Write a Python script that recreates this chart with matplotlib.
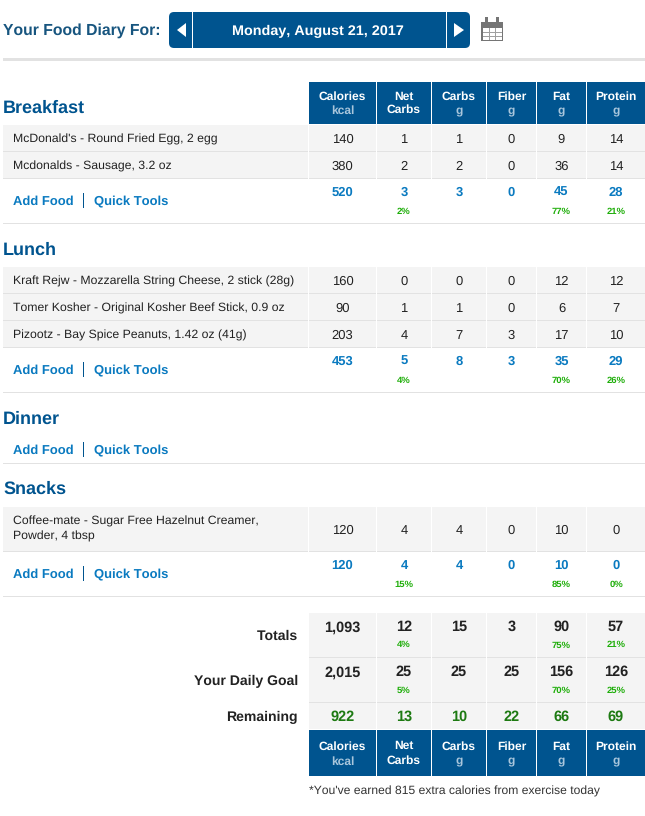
import matplotlib
matplotlib.use('Agg')
import matplotlib.pyplot as plt
from matplotlib.patches import Rectangle, FancyBboxPatch, Polygon

plt.rcParams['font.family'] = ['Liberation Sans', 'DejaVu Sans']
plt.rcParams['text.kerning_factor'] = 6
plt.rcParams['text.hinting'] = 'no_hinting'

# data
columns = ['Calories', 'Net\nCarbs', 'Carbs', 'Fiber', 'Fat', 'Protein']
units = ['kcal', '', 'g', 'g', 'g', 'g']

breakfast_foods = ["McDonald's - Round Fried Egg, 2 egg", "Mcdonalds - Sausage, 3.2 oz"]
breakfast_vals = [[140, 1, 1, 0, 9, 14], [380, 2, 2, 0, 36, 14]]
breakfast_total = [520, 3, 3, 0, 45, 28]
breakfast_pct = ['', '2%', '', '', '77%', '21%']

lunch_foods = ["Kraft Rejw - Mozzarella String Cheese, 2 stick (28g)",
               "Tomer Kosher - Original Kosher Beef Stick, 0.9 oz",
               "Pizootz - Bay Spice Peanuts, 1.42 oz (41g)"]
lunch_vals = [[160, 0, 0, 0, 12, 12], [90, 1, 1, 0, 6, 7], [203, 4, 7, 3, 17, 10]]
lunch_total = [453, 5, 8, 3, 35, 29]
lunch_pct = ['', '4%', '', '', '70%', '26%']

snack_foods = ["Coffee-mate - Sugar Free Hazelnut Creamer,\nPowder, 4 tbsp"]
snack_vals = [[120, 4, 4, 0, 10, 0]]
snack_total = [120, 4, 4, 0, 10, 0]
snack_pct = ['', '15%', '', '', '85%', '0%']

totals = ['1,093', 12, 15, 3, 90, 57]
totals_pct = ['', '4%', '', '', '75%', '21%']
goal = ['2,015', 25, 25, 25, 156, 126]
goal_pct = ['', '5%', '', '', '70%', '25%']
remaining = [922, 13, 10, 22, 66, 69]

# colours and layout
NAVY = '#00548f'
LINK = '#0a7ac0'
GREY = '#f4f4f4'
LINE = '#e2e2e2'
DARK = '#222222'
GREEN = '#1d7a12'
PCT = '#1fae0a'
col_left = [309, 377, 432, 487, 537, 587]
col_right = [376, 431, 486, 536, 586, 645]
col_mid = [(a + b) / 2 for a, b in zip(col_left, col_right)]

fig = plt.figure(figsize=(6.45, 8.16), dpi=100)
ax = fig.add_axes([0, 0, 1, 1])
ax.set_xlim(0, 645)
ax.set_ylim(816, 0)
ax.axis('off')


def px(size):
    return size * 0.72


def txt(x, y, s, size=12, color=DARK, weight='normal', ha='left', **kw):
    # single lines sit on a baseline so descenders don't shift them
    if '\n' in s:
        ax.text(x, y, s, fontsize=px(size), color=color, fontweight=weight, ha=ha, va='center', **kw)
    else:
        ax.text(x, y + size * 0.36, s, fontsize=px(size), color=color, fontweight=weight,
                ha=ha, va='baseline', **kw)


def rect(x0, y0, x1, y1, color):
    ax.add_patch(Rectangle((x0, y0), x1 - x0, y1 - y0, fc=color, ec='none', lw=0))


def button(x0, x1):
    ax.add_patch(FancyBboxPatch((x0, 12), x1 - x0, 36, boxstyle='round,pad=0,rounding_size=5',
                                fc=NAVY, ec='none', lw=0))


def header(top, bottom, gap=7, net_space=1.15):
    for i, name in enumerate(columns):
        rect(col_left[i], top, col_right[i], bottom, NAVY)
        mid = (top + bottom) / 2
        if units[i]:
            txt(col_mid[i], mid - gap, name, 12, 'white', 'bold', ha='center')
            txt(col_mid[i], mid + gap, units[i], 12, '#a9c6dc', 'bold', ha='center')
        else:
            txt(col_mid[i], mid + 0.5, name, 12, 'white', 'bold', ha='center', linespacing=net_space)


def food_rows(foods, vals, top, heights):
    y = top
    for food, row, h in zip(foods, vals, heights):
        rect(3, y, 308, y + h, GREY)
        rect(3, y + h, 308, y + h + 1, LINE)
        txt(13, y + h / 2, food, 12.2, linespacing=1.4)
        for i, v in enumerate(row):
            rect(col_left[i], y, col_right[i], y + h, GREY)
            rect(col_left[i], y + h, col_right[i], y + h + 1, LINE)
            txt(col_mid[i], y + h / 2, str(v), 13, ha='center')
        y += h + 1
    return y


def add_food(y):
    txt(13, y, 'Add Food', 13, LINK, 'bold')
    rect(83, y - 7, 84, y + 8, NAVY)
    txt(94, y, 'Quick Tools', 13, LINK, 'bold')


def section_total(vals, pct, y):
    for i, v in enumerate(vals):
        txt(col_mid[i], y, str(v), 13, LINK, 'bold', ha='center')
        if pct[i]:
            txt(col_mid[i], y + 19.5, pct[i], 9.5, PCT, 'bold', ha='center')


# top bar
txt(3, 29, 'Your Food Diary For:', 15.8, '#17557f', 'bold')
button(169, 200)
button(430, 470)
rect(185, 12, 446, 48, NAVY)
rect(192, 12, 193, 48, 'white')
rect(446, 12, 447, 48, 'white')
ax.add_patch(Polygon([(186, 23), (186, 37), (177, 30)], fc='white', ec='none'))
ax.add_patch(Polygon([(454, 23), (454, 37), (464, 30)], fc='white', ec='none'))
txt(318, 30, 'Monday, August 21, 2017', 14.4, 'white', 'bold', ha='center')

# calendar icon
rect(481, 22, 503, 41, '#757575')
rect(482.5, 28, 501.5, 39.5, 'white')
for gx in [488.5, 494.5]:
    rect(gx, 28, gx + 1, 39.5, '#a0a0a0')
for gy in [31.5, 35.5]:
    rect(482.5, gy, 501.5, gy + 1, '#a0a0a0')
for gx in [485, 496]:
    rect(gx, 17, gx + 3, 24, '#757575')
rect(3, 58, 645, 61, LINE)

# breakfast
header(82, 124)
txt(3, 106, 'Breakfast', 18, NAVY, 'bold')
food_rows(breakfast_foods, breakfast_vals, 125, [26, 26])
add_food(200)
section_total(breakfast_total, breakfast_pct, 191)
rect(3, 223, 645, 224, LINE)

# lunch
txt(3, 248, 'Lunch', 18, NAVY, 'bold')
food_rows(lunch_foods, lunch_vals, 267, [26, 26, 26])
add_food(369)
section_total(lunch_total, lunch_pct, 360)
rect(3, 392, 645, 393, LINE)

# dinner
txt(3, 417, 'Dinner', 18, NAVY, 'bold')
add_food(449)
rect(3, 463, 645, 464, LINE)

# snacks
txt(3, 487, 'Snacks', 18, NAVY, 'bold')
food_rows(snack_foods, snack_vals, 507, [44])
add_food(573)
section_total(snack_total, snack_pct, 564)
rect(3, 596, 645, 597, LINE)

# totals block
for label, vals, pct, top, h in [('Totals', totals, totals_pct, 613, 44),
                                 ('Your Daily Goal', goal, goal_pct, 658, 44)]:
    txt(298, top + 22, label, 14, DARK, 'bold', ha='right')
    for i, v in enumerate(vals):
        rect(col_left[i], top, col_right[i], top + h, GREY)
        rect(col_left[i], top + h, col_right[i], top + h + 1, LINE)
        txt(col_mid[i], top + 13, str(v), 14.5, DARK, 'bold', ha='center')
        if pct[i]:
            txt(col_mid[i], top + 31, pct[i], 9.5, PCT, 'bold', ha='center')

txt(298, 716, 'Remaining', 14, DARK, 'bold', ha='right')
for i, v in enumerate(remaining):
    rect(col_left[i], 703, col_right[i], 729, GREY)
    txt(col_mid[i], 716, str(v), 14.5, GREEN, 'bold', ha='center')
header(730, 776, gap=7.5, net_space=1.45)
txt(309, 790, "*You've earned 815 extra calories from exercise today", 12.1, '#333333')

fig.savefig('out.png', dpi=100)
